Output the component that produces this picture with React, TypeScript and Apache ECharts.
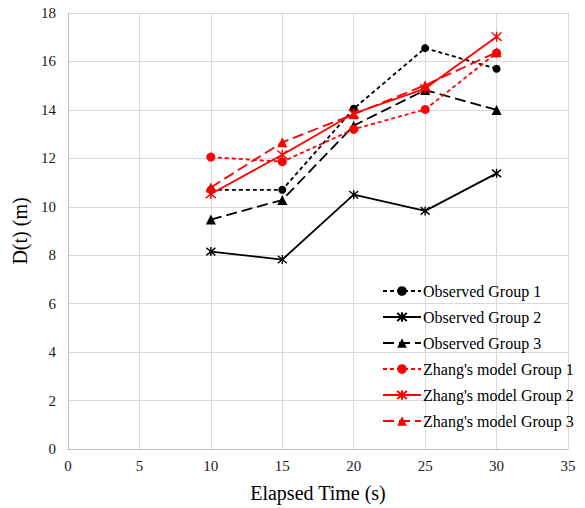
import React, { useEffect, useRef } from "react";
import * as echarts from "echarts";

const times = [10, 15, 20, 25, 30];
const obsG1 = [10.7, 10.7, 14.05, 16.55, 15.7];
const obsG2 = [8.15, 7.82, 10.5, 9.83, 11.38];
const obsG3 = [9.47, 10.28, 13.35, 14.82, 14.0];
const zhG1 = [12.05, 11.86, 13.2, 14.02, 16.35];
const zhG2 = [10.53, 12.15, 13.85, 14.88, 17.02];
const zhG3 = [10.8, 12.66, 13.82, 15.02, 16.38];
const seriesNames = [
  "Observed Group 1",
  "Observed Group 2",
  "Observed Group 3",
  "Zhang's model Group 1",
  "Zhang's model Group 2",
  "Zhang's model Group 3",
];

const FONT = "Liberation Serif";
const ASTER = "path://M0 0 L10 10 M10 0 L0 10 M5 -1 L5 11";

function pairs(vals: number[]) {
  return times.map((t, i) => [t, vals[i]]);
}

export default function App() {
  const ref = useRef<HTMLDivElement>(null);
  useEffect(() => {
    if (!ref.current) return;
    const chart = echarts.init(ref.current, undefined, { renderer: "svg" });
    const mk = (
      name: string,
      vals: number[],
      color: string,
      type: any,
      symbol: string,
      size: number,
      aster: boolean
    ) => ({
      name,
      type: "line",
      data: pairs(vals),
      symbol,
      symbolSize: size,
      showSymbol: true,
      lineStyle: { color, width: 1.8, type },
      itemStyle: aster
        ? { color: "rgba(0,0,0,0)", borderColor: color, borderWidth: 1.4 }
        : { color, borderWidth: 0 },
      emphasis: { disabled: true },
    });
    const shortDash = [4, 3];
    const longDash = [11, 5];
    chart.setOption({
      animation: false,
      textStyle: { fontFamily: FONT },
      grid: { left: 68, top: 13, right: 17, bottom: 56, containLabel: false },
      xAxis: {
        type: "value",
        min: 0,
        max: 35,
        interval: 5,
        name: "Elapsed Time (s)",
        nameLocation: "middle",
        nameGap: 34,
        nameTextStyle: { fontFamily: FONT, fontSize: 20, color: "#000" },
        axisLine: { show: true, lineStyle: { color: "#bfbfbf", width: 1 } },
        axisTick: { show: false },
        axisLabel: { fontFamily: FONT, fontSize: 15, color: "#1a1a1a", margin: 9 },
        splitLine: { show: true, lineStyle: { color: "#d9d9d9", width: 1 } },
      },
      yAxis: {
        type: "value",
        min: 0,
        max: 18,
        interval: 2,
        name: "D(t) (m)",
        nameLocation: "middle",
        nameGap: 35,
        nameTextStyle: { fontFamily: FONT, fontSize: 20, color: "#000" },
        axisLine: { show: true, lineStyle: { color: "#bfbfbf", width: 1 } },
        axisTick: { show: false },
        axisLabel: { fontFamily: FONT, fontSize: 15, color: "#1a1a1a", margin: 12 },
        splitLine: { show: true, lineStyle: { color: "#d9d9d9", width: 1 } },
      },
      legend: {
        orient: "vertical",
        left: 377,
        top: 278,
        itemWidth: 38,
        itemHeight: 12,
        itemGap: 10,
        textStyle: { fontFamily: FONT, fontSize: 16, color: "#000", padding: [0, 0, 0, -3] },
        data: seriesNames,
      },
      series: [
        mk(seriesNames[0], obsG1, "#000", shortDash, "circle", 8, false),
        mk(seriesNames[1], obsG2, "#000", "solid", ASTER, 9, true),
        mk(seriesNames[2], obsG3, "#000", longDash, "triangle", 10, false),
        mk(seriesNames[3], zhG1, "#ff0000", shortDash, "circle", 9, false),
        mk(seriesNames[4], zhG2, "#ff0000", "solid", ASTER, 10, true),
        mk(seriesNames[5], zhG3, "#ff0000", longDash, "triangle", 10, false),
      ],
    });
    return () => chart.dispose();
  }, []);
  return (
    <div
      ref={ref}
      style={{ position: "absolute", left: 0, top: 0, width: 585, height: 508 }}
    />
  );
}
